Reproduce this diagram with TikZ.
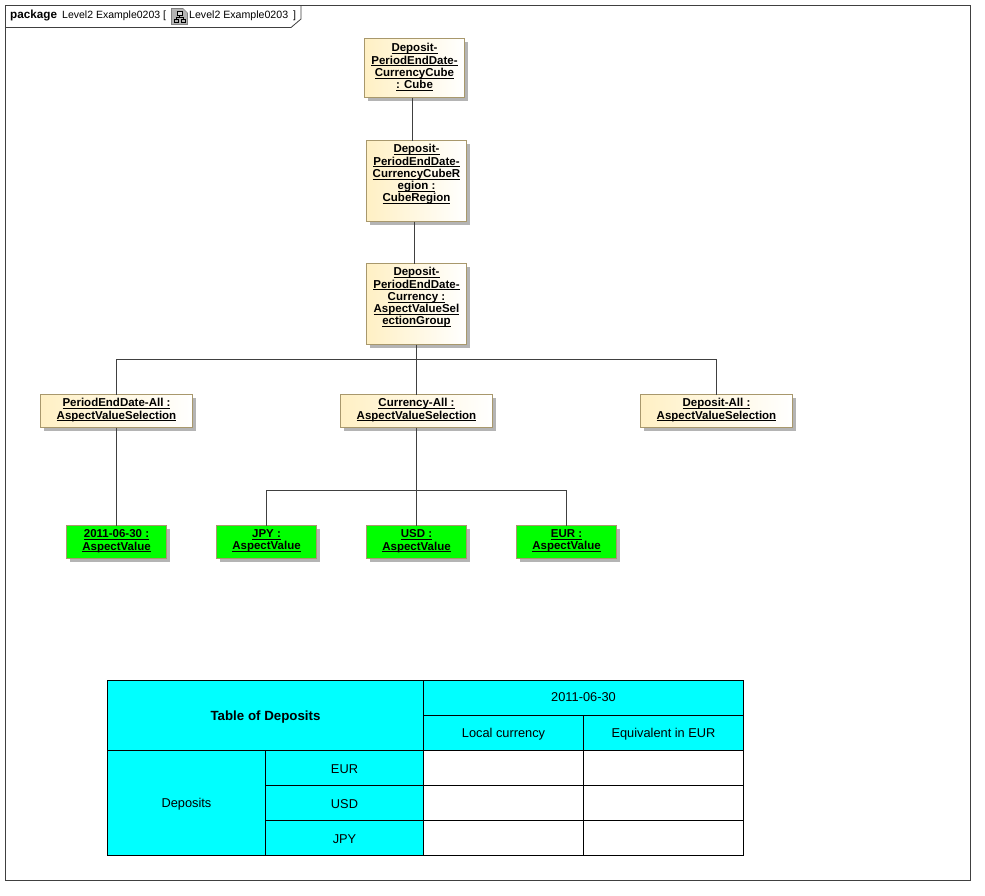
\documentclass[tikz,border=0pt]{standalone}
\usepackage{fontspec}
\setmainfont{Liberation Sans}
\usetikzlibrary{shadows,calc}
\AtBeginDocument{\lineskiplimit=-100pt\relax}
\newsavebox{\ulxbox}
\newcommand{\ulx}[1]{\sbox{\ulxbox}{#1}\rlap{\usebox{\ulxbox}}\raisebox{-2.2pt}{\rule{\wd\ulxbox}{0.9pt}}}
\newcommand{\lowr}[2][-1.2pt]{\raisebox{#1}[\height][\depth]{#2}}
\definecolor{nodeborder}{HTML}{A8986C}
\definecolor{warm}{HTML}{FFF0C4}
\definecolor{limeg}{HTML}{00FF00}
\definecolor{cyanc}{HTML}{00FFFF}
\definecolor{linec}{HTML}{404040}
\definecolor{shadowc}{HTML}{B4B4B4}
\tikzset{
  x=1pt,y=-1pt,
  conn/.style={draw=linec,line width=0.9pt},
  objbox/.style={draw=nodeborder,line width=1pt,inner sep=0pt,outer sep=0pt,align=center,
    font=\fontsize{11.5}{12.2}\selectfont\bfseries,
    general shadow={fill=shadowc,draw=none,shadow xshift=3pt,shadow yshift=-3pt}},
  yellowbox/.style={objbox,left color=warm,right color=white},
  greenbox/.style={objbox,fill=limeg},
  cell/.style={draw=black,line width=1pt,inner sep=0pt,outer sep=0pt,align=center,
    font=\fontsize{12.8}{14}\selectfont},
  ccell/.style={cell,fill=cyanc},
  wcell/.style={cell,fill=white},
}
\begin{document}
\begin{tikzpicture}
\useasboundingbox (0,0) rectangle (985,895);
\fill[white] (0,0) rectangle (985,895);
% frame
\draw[draw=linec,line width=0.8pt] (5.5,5.5) rectangle (970.5,880.5);
\draw[draw=linec,line width=0.8pt] (5.5,27.5) -- (291,27.5) -- (301,19) -- (301,5.5);
\node[anchor=base west,inner sep=0pt,font=\fontsize{11.7}{12}\selectfont\bfseries] (kw) at (10,18) {package};
\node[anchor=base west,inner sep=0pt,font=\fontsize{10.5}{12}\selectfont] (nm) at (62,18) {Level2 Example0203 [};
\node[anchor=base west,inner sep=0pt,font=\fontsize{10.6}{12}\selectfont] (nm2) at (189,18) {Level2 Example0203};
\node[anchor=base west,inner sep=0pt,font=\fontsize{10.6}{12}\selectfont] (nm3) at (293,18) {]};
% icon
\draw[draw=gray,fill=shadowc,line width=0.7pt] (171.5,8.5) -- (183,8.5) -- (187.5,13) -- (187.5,24.5) -- (171.5,24.5) -- cycle;
\draw[black,line width=0.6pt,fill=white!70!gray] (177,11) rectangle (182,15);
\draw[black,line width=0.6pt] (174,22) rectangle (178,19) (181,22) rectangle (185,19);
\draw[black,line width=0.6pt] (179.5,15) -- (179.5,17) (176,19) -- (176,17) -- (183,17) -- (183,19);
% tree nodes
\node[yellowbox,minimum width=100pt,minimum height=59pt] (cube) at (414.5,68) {\ulx{Deposit-}\\\ulx{PeriodEndDate-}\\\ulx{CurrencyCube}\\\ulx{: Cube}\\[-8.4pt]};
\node[yellowbox,minimum width=100pt,minimum height=81pt] (region) at (416.5,181) {\ulx{Deposit-}\\\ulx{PeriodEndDate-}\\\ulx{CurrencyCubeR}\\\ulx{egion :}\\\ulx{CubeRegion}\\[3.6pt]};
\node[yellowbox,minimum width=100pt,minimum height=81pt] (group) at (416.5,304) {\ulx{Deposit-}\\\ulx{PeriodEndDate-}\\\ulx{Currency :}\\\ulx{AspectValueSel}\\\ulx{ectionGroup}\\[3.6pt]};
\node[yellowbox,minimum width=152pt,minimum height=33pt] (period) at (116.5,411) {\ulx{PeriodEndDate-All :}\\\ulx{AspectValueSelection}\\[-8pt]};
\node[yellowbox,minimum width=152pt,minimum height=33pt] (curr) at (416.5,411) {\ulx{Currency-All :}\\\ulx{AspectValueSelection}\\[-8pt]};
\node[yellowbox,minimum width=152pt,minimum height=33pt] (dep) at (716.5,411) {\ulx{Deposit-All :}\\\ulx{AspectValueSelection}\\[-8pt]};
\node[greenbox,minimum width=100pt,minimum height=33pt] (date) at (116.5,542) {\ulx{2011-06-30 :}\\\ulx{AspectValue}\\[-8pt]};
\node[greenbox,minimum width=100pt,minimum height=33pt] (jpy) at (266.5,542) {\ulx{JPY :}\\\ulx{AspectValue}\\[-8pt]};
\node[greenbox,minimum width=100pt,minimum height=33pt] (usd) at (416.5,542) {\ulx{USD :}\\\ulx{AspectValue}\\[-8pt]};
\node[greenbox,minimum width=100pt,minimum height=33pt] (eur) at (566.5,542) {\ulx{EUR :}\\\ulx{AspectValue}\\[-8pt]};
% connectors
\coordinate (busa) at (416.5,359.5);
\coordinate (busb) at (416.5,490.5);
\draw[conn] ([xshift=-2pt]cube.south) -- ([xshift=-4pt]region.north);
\draw[conn] ([xshift=-2pt]region.south) -- ([xshift=-2pt]group.north);
\draw[conn] (group.south) -- (curr.north);
\draw[conn] (period.north) |- (busa) -| (dep.north);
\draw[conn] (period.south) -- (date.north);
\draw[conn] (curr.south) -- (usd.north);
\draw[conn] (jpy.north) |- (busb) -| (eur.north);
% table
\node[ccell,font=\fontsize{13.3}{14}\selectfont\bfseries,minimum width=316pt,minimum height=70pt] (tt) at (265.5,715.5) {\lowr[-1.5pt]{Table of Deposits}};
\node[ccell,minimum width=320pt,minimum height=35pt] (d) at (583.5,698) {\lowr[0.6pt]{2011-06-30}};
\node[ccell,minimum width=160pt,minimum height=35pt] (lc) at (503.5,733) {\lowr{Local currency}};
\node[ccell,minimum width=160pt,minimum height=35pt] (eq) at (663.5,733) {\lowr{Equivalent in EUR}};
\node[ccell,minimum width=158pt,minimum height=105pt] (ds) at (186.5,803) {\lowr{Deposits}};
\node[ccell,minimum width=158pt,minimum height=35pt] (r1) at (344.5,768) {\lowr{EUR}};
\node[ccell,minimum width=158pt,minimum height=35pt] (r2) at (344.5,803) {\lowr{USD}};
\node[ccell,minimum width=158pt,minimum height=35pt] (r3) at (344.5,838) {\lowr{JPY}};
\node[wcell,minimum width=160pt,minimum height=35pt] (a1) at (503.5,768) {};
\node[wcell,minimum width=160pt,minimum height=35pt] (b1) at (663.5,768) {};
\node[wcell,minimum width=160pt,minimum height=35pt] (a2) at (503.5,803) {};
\node[wcell,minimum width=160pt,minimum height=35pt] (b2) at (663.5,803) {};
\node[wcell,minimum width=160pt,minimum height=35pt] (a3) at (503.5,838) {};
\node[wcell,minimum width=160pt,minimum height=35pt] (b3) at (663.5,838) {};
\end{tikzpicture}
\end{document}
